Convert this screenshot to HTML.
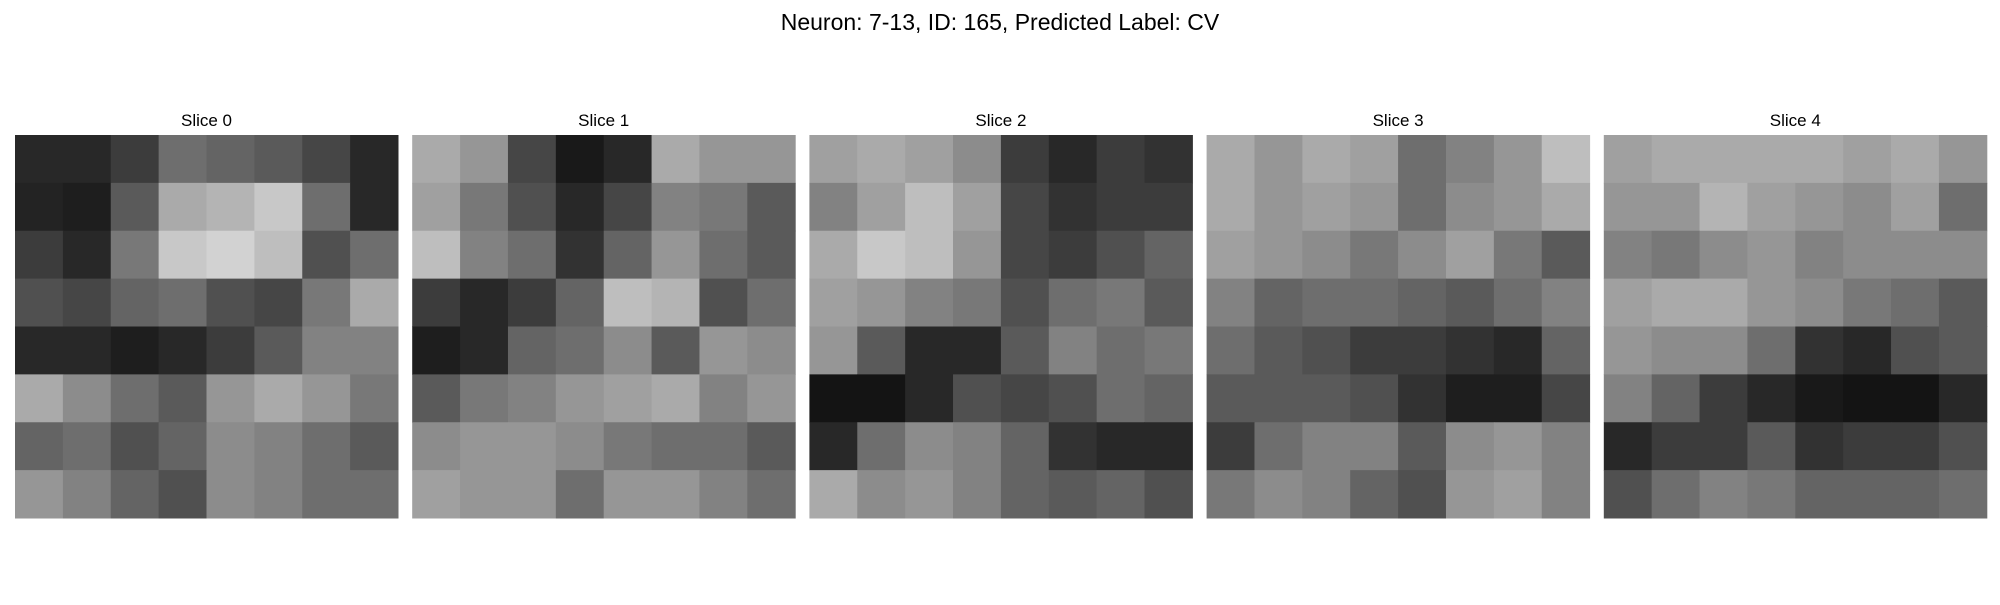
<!DOCTYPE html>
<html><head><meta charset="utf-8"><style>
body{margin:0;background:#fff;width:2000px;height:600px;overflow:hidden;font-family:"Liberation Sans",sans-serif}
</style></head><body>
<svg id="fig" width="2000" height="600" xmlns="http://www.w3.org/2000/svg">
<text x="1000" y="30" text-anchor="middle" font-size="23" font-family="Liberation Sans, sans-serif">Neuron: 7-13, ID: 165, Predicted Label: CV</text>
</svg>
<script>
const sliceTitles = ["Slice 0","Slice 1","Slice 2","Slice 3","Slice 4"];
const slice0 = [
[40,40,60,110,100,90,70,40],
[35,30,90,170,180,200,110,40],
[60,40,120,200,210,190,80,110],
[80,70,100,110,80,70,120,170],
[40,40,30,40,60,90,130,130],
[170,140,110,90,150,170,150,120],
[100,110,80,100,140,130,110,90],
[150,130,100,80,140,130,110,110]];
const slice1 = [
[170,150,70,25,40,170,150,150],
[160,120,80,40,70,130,120,90],
[190,130,110,50,100,150,110,90],
[60,40,60,100,190,180,80,110],
[30,40,100,110,140,90,150,140],
[90,120,130,150,160,170,130,150],
[140,150,150,140,120,110,110,90],
[160,150,150,110,150,150,130,110]];
const slice2 = [
[160,170,160,140,60,40,60,50],
[130,160,190,160,70,50,60,60],
[170,200,190,150,70,60,80,100],
[160,150,130,120,80,110,120,90],
[150,90,40,40,90,130,110,120],
[20,20,40,80,70,80,110,100],
[40,110,140,130,100,50,40,40],
[170,140,150,130,100,90,100,80]];
const slice3 = [
[170,150,170,160,110,130,150,190],
[170,150,160,150,110,140,150,170],
[160,150,140,120,140,160,120,90],
[130,100,110,110,100,90,110,130],
[110,90,80,60,60,50,40,100],
[90,90,90,80,50,30,30,70],
[60,110,130,130,90,140,150,130],
[120,140,130,100,80,150,160,130]];
const slice4 = [
[160,170,170,170,170,160,170,150],
[150,150,180,160,150,140,160,110],
[130,120,140,150,130,140,140,140],
[160,170,170,150,140,120,110,90],
[150,140,140,110,50,40,80,90],
[130,100,60,40,25,20,20,40],
[40,60,60,90,50,60,60,80],
[80,110,130,120,100,100,100,110]];
const slices = [slice0,slice1,slice2,slice3,slice4];
const NS="http://www.w3.org/2000/svg";
const svg=document.getElementById('fig');
const panelX=i=>15+i*397.2, panelY=135, panelSize=383;
slices.forEach((grid,i)=>{
  const g=document.createElementNS(NS,'g');
  
  
  const n=grid.length, cs=panelSize/n;
  grid.forEach((row,r)=>row.forEach((v,c)=>{
    const rect=document.createElementNS(NS,'rect');
    rect.setAttribute('x',panelX(i)+c*cs);
    rect.setAttribute('y',panelY+r*cs);
    rect.setAttribute('width',cs+0.5);
    rect.setAttribute('height',cs+0.5);
    rect.setAttribute('fill',`rgb(${v},${v},${v})`);
    
    
    g.appendChild(rect);
  }));
  svg.appendChild(g);
  const t=document.createElementNS(NS,'text');
  t.setAttribute('x',panelX(i)+panelSize/2);
  t.setAttribute('y',126);
  t.setAttribute('text-anchor','middle');
  t.setAttribute('font-size','17');
  t.setAttribute('font-family','Liberation Sans, sans-serif');
  t.textContent=sliceTitles[i];
  
  
  svg.appendChild(t);
});
</script>
</body></html>
